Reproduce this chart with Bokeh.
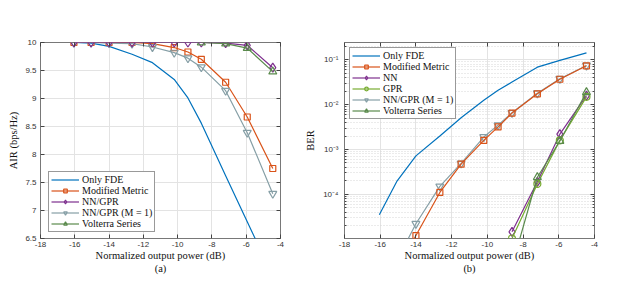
from bokeh.plotting import figure
from bokeh.models import FixedTicker, Legend, LegendItem, LinearAxis, LogAxis, Range1d
from bokeh.layouts import row
from bokeh.embed import file_html
from bokeh.resources import INLINE

# ---------------- data ----------------
x_pts = [-16.05, -15.05, -14.0, -12.66, -11.47, -10.2, -9.4, -8.62, -7.2, -5.94, -4.45]
x_late = [-8.62, -7.2, -5.94, -4.45]

# (a) AIR
air_fde = [10.0, 9.99, 9.93, 9.79, 9.64, 9.34, 9.01, 8.56, 7.62, 6.80, 5.83]
air_mm = [10.0, 10.0, 10.0, 10.0, 9.98, 9.91, 9.83, 9.70, 9.29, 8.67, 7.75]
air_nngpr = [10.0, 10.0, 10.0, 10.0, 10.0, 10.0, 10.0, 10.0, 9.99, 9.95, 9.55]
air_m1 = [10.0, 10.0, 9.99, 9.98, 9.92, 9.82, 9.72, 9.56, 9.14, 8.39, 7.30]
air_volt = [10.0, 9.98, 9.90, 9.48]

# (b) BER
x_ber_low = [-15.05, -14.0, -12.66, -11.47, -10.2, -9.4, -8.62, -7.2, -5.94, -4.45]
ber_fde = [3.5e-5, 2.0e-4, 7.2e-4, 2.0e-3, 5.1e-3, 1.26e-2, 2.1e-2, 3.2e-2, 6.9e-2, 9.8e-2, 1.44e-1]
ber_mm = [2.0e-6, 1.2e-5, 1.1e-4, 4.7e-4, 1.6e-3, 3.2e-3, 6.5e-3, 1.75e-2, 3.7e-2, 7.4e-2]
ber_m1 = [3.4e-6, 2.2e-5, 1.5e-4, 4.9e-4, 1.9e-3, 3.5e-3, 6.6e-3, 1.8e-2, 3.8e-2, 7.5e-2]
ber_nn = [1.45e-5, 1.9e-4, 2.2e-3, 1.6e-2]
ber_gpr = [1.03e-5, 1.7e-4, 1.6e-3, 1.5e-2]
ber_volt = [2.5e-6, 2.4e-4, 1.55e-3, 1.9e-2]

x_ticks = [-18, -16, -14, -12, -10, -8, -6, -4]
x_labels = ["-18", "-16", "-14", "-12", "-10", "-8", "-6", "-4"]
air_ticks = [6.5, 7, 7.5, 8, 8.5, 9, 9.5, 10]
air_labels = ["6.5", "7", "7.5", "8", "8.5", "9", "9.5", "10"]
ber_ticks = [1e-4, 1e-3, 1e-2, 1e-1]
ber_labels = ["10\u207b\u2074", "10\u207b\u00b3", "10\u207b\u00b2", "10\u207b\u00b9"]
captions = ["(a)", "(b)"]

# ---------------- style ----------------
C_FDE = "#0072BD"
C_MM = "#D95319"
C_NN = "#7E2F8E"
C_GPR = "#77AC30"
C_M1 = "#869FA6"
C_VOLT = "#5A8A4C"
SERIF = "Liberation Serif"
SANS = "Liberation Sans"
LW = 1.2
TICK_C = "#444444"


def mirror_axis(cls, ticks, minor=None):
    return cls(ticker=FixedTicker(ticks=ticks, minor_ticks=minor or []),
               major_label_overrides={t: "" for t in ticks},
               major_label_standoff=0,
               major_tick_in=4, major_tick_out=0,
               minor_tick_in=2 if minor else 0, minor_tick_out=0,
               axis_line_color=None, major_tick_line_color=TICK_C,
               minor_tick_line_color=TICK_C)


def style(p, xlabel, ylabel, yticks, ylabels, caption, minor=None):
    p.outline_line_color = "#555555"
    p.outline_line_width = 0.8
    p.xaxis.ticker = FixedTicker(ticks=x_ticks)
    p.xaxis.major_label_overrides = dict(zip(x_ticks, x_labels))
    p.yaxis.ticker = FixedTicker(ticks=yticks, minor_ticks=minor or [])
    p.yaxis.major_label_overrides = dict(zip(yticks, ylabels))
    for ax in p.xaxis + p.yaxis:
        ax.axis_line_color = None
        ax.major_tick_in = 4
        ax.major_tick_out = 0
        ax.minor_tick_in = 2 if minor else 0
        ax.minor_tick_out = 0
        ax.major_tick_line_color = TICK_C
        ax.minor_tick_line_color = TICK_C
        ax.major_label_text_font = SANS
        ax.major_label_text_font_size = "8px"
        ax.major_label_text_color = "#333333"
        ax.axis_label_text_font = SERIF
        ax.axis_label_text_font_size = "10.5px"
        ax.axis_label_text_font_style = "normal"
        ax.axis_label_text_color = "#111111"
    p.xaxis.major_label_standoff = 3
    p.xaxis.axis_label_standoff = 0
    p.xaxis.axis_label = xlabel + "\n" + caption
    p.yaxis.axis_label = ylabel
    p.xgrid.ticker = FixedTicker(ticks=x_ticks)
    p.ygrid.ticker = FixedTicker(ticks=yticks, minor_ticks=minor or [])
    p.xgrid.grid_line_color = "#e3e3e3"
    p.ygrid.grid_line_color = "#e3e3e3"
    p.add_layout(mirror_axis(LinearAxis, x_ticks), "above")


def legend(p, entries, loc, margin):
    items = [LegendItem(label=lab, renderers=rs) for lab, rs in entries]
    lg = Legend(items=items, location=loc, label_text_font=SERIF, label_text_font_size="10px",
                label_text_color="#111111", glyph_width=28, glyph_height=9, label_height=9,
                spacing=0, padding=2, margin=margin, label_standoff=3,
                border_line_color="#333333", border_line_width=0.8,
                background_fill_color="white", background_fill_alpha=1.0)
    p.add_layout(lg)


def series(p, xs, ys, color, marker=None, size=7):
    rs = [p.line(xs, ys, line_color=color, line_width=LW)]
    if marker:
        rs.append(p.scatter(xs, ys, marker=marker, size=size, line_color=color,
                            fill_color=None, line_width=LW))
    return rs


# ---------------- (a) ----------------
p1 = figure(frame_width=240, frame_height=196, x_range=Range1d(-18, -4), y_range=Range1d(6.5, 10),
            output_backend="svg", toolbar_location=None,
            min_border_left=40, min_border_right=22, min_border_top=42, min_border_bottom=10)
style(p1, "Normalized output power (dB)", "AIR (bps/Hz)", air_ticks, air_labels, captions[0])
p1.yaxis.major_label_standoff = 4
p1.yaxis.axis_label_standoff = 3
p1.add_layout(mirror_axis(LinearAxis, air_ticks), "right")

r_fde = series(p1, x_pts, air_fde, C_FDE)
r_mm = series(p1, x_pts, air_mm, C_MM, "square", 6)
r_m1 = series(p1, x_pts, air_m1, C_M1, "inverted_triangle", 8)
r_nn = series(p1, x_pts, air_nngpr, C_NN, "diamond", 9)
r_vt = series(p1, x_late, air_volt, C_VOLT, "triangle", 8)
legend(p1, [("Only FDE", r_fde), ("Modified Metric", r_mm), ("NN/GPR", r_nn),
            ("NN/GPR (M = 1)", r_m1), ("Volterra Series", r_vt)], (8, 6), 0)

# ---------------- (b) ----------------
minor_ber = [k * 10.0 ** e for e in range(-5, 0) for k in range(2, 10)]
p2 = figure(frame_width=250, frame_height=196, x_range=Range1d(-18, -4),
            y_range=Range1d(1.03e-5, 0.245),
            y_axis_type="log", output_backend="svg", toolbar_location=None,
            min_border_left=36, min_border_right=13, min_border_top=42, min_border_bottom=10)
style(p2, "Normalized output power (dB)", "BER", ber_ticks, ber_labels, captions[1], minor_ber)
p2.yaxis.major_label_standoff = 6
p2.yaxis.axis_label_standoff = 4
p2.ygrid.minor_grid_line_color = "#d6d6d6"
p2.ygrid.minor_grid_line_dash = "1 2"
p2.add_layout(mirror_axis(LogAxis, ber_ticks, minor_ber), "right")

b_fde = series(p2, x_pts, ber_fde, C_FDE)
b_m1 = series(p2, x_ber_low, ber_m1, C_M1, "inverted_triangle", 8)
b_mm = series(p2, x_ber_low, ber_mm, C_MM, "square", 6)
b_nn = series(p2, x_late, ber_nn, C_NN, "diamond", 9)
b_gpr = series(p2, x_late, ber_gpr, C_GPR, "circle", 7)
b_vt = series(p2, x_late, ber_volt, C_VOLT, "triangle", 8)
legend(p2, [("Only FDE", b_fde), ("Modified Metric", b_mm), ("NN", b_nn), ("GPR", b_gpr),
            ("NN/GPR (M = 1)", b_m1), ("Volterra Series", b_vt)], "top_left", 5)

layout = row(p1, p2)
open("out.html", "w").write(file_html(layout, INLINE))
